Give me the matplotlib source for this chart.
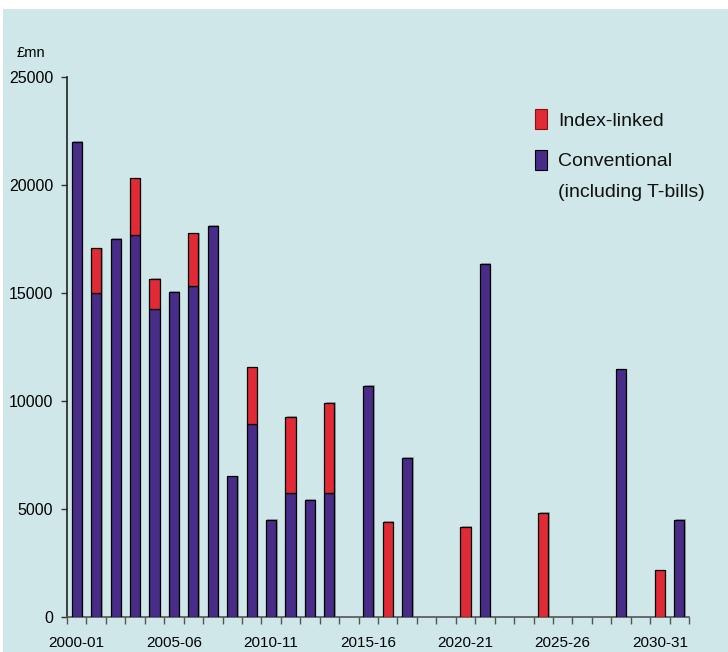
import numpy as np
import matplotlib
matplotlib.use("Agg")
import matplotlib.pyplot as plt
from matplotlib.patches import Patch, Rectangle
import matplotlib.patheffects as pe

# Redemption profile of gilts, fiscal years 2000-01 to 2031-32 (£mn)
years = ["%d-%02d" % (y, (y + 1) % 100) for y in range(2000, 2032)]
conventional = [22000, 15000, 17500, 17650, 14250, 15050, 15300, 18100,
                6500, 8900, 4500, 5750, 5400, 5750, 0, 10700,
                0, 7350, 0, 0, 0, 16350, 0, 0,
                0, 0, 0, 0, 11450, 0, 0, 4500]
index_linked = [0, 2050, 0, 2650, 1400, 0, 2450, 0,
                0, 2650, 0, 3500, 0, 4150, 0, 0,
                4400, 0, 0, 0, 4150, 0, 0, 0,
                4800, 0, 0, 0, 0, 0, 2150, 0]
yticks = [0, 5000, 10000, 15000, 20000, 25000]

BG = "#cfe7e8"
BLUE = "#482c88"
RED = "#e02a35"

plt.rcParams["font.family"] = ["Liberation Sans", "DejaVu Sans"]

fig = plt.figure(figsize=(7.28, 6.52), dpi=100)
fig.patch.set_facecolor("white")
# light panel behind the chart, leaving a thin white margin top and left
fig.add_artist(Rectangle((3 / 728, 0), 1, 1 - 9 / 652, transform=fig.transFigure,
                         facecolor=BG, edgecolor="none", zorder=0))

ax = fig.add_axes([67 / 728, 1 - 616.7 / 652, (689 - 67) / 728, (616.7 - 76.7) / 652])
ax.set_facecolor("none")

x = np.arange(len(years))
conv = np.array(conventional, dtype=float)
il = np.array(index_linked, dtype=float)
shadow = [pe.SimplePatchShadow(offset=(1.0, 0.5), shadow_rgbFace="#555555", alpha=0.45), pe.Normal()]

b1 = ax.bar(x, np.where(conv > 0, conv, np.nan), width=0.52, color=BLUE,
            edgecolor="black", linewidth=0.9, zorder=3)
b2 = ax.bar(x, np.where(il > 0, il, np.nan), bottom=conv, width=0.52, color=RED,
            edgecolor="black", linewidth=0.9, zorder=3)
for bar in list(b1) + list(b2):
    bar.set_path_effects(shadow)

ax.set_xlim(-0.5, len(years) - 0.5)
ax.set_ylim(0, 25000)

ax.set_yticks(yticks)
ax.set_yticklabels([str(v) for v in yticks], fontsize=11.5)
ax.tick_params(axis="y", length=4, width=1, pad=6, color="#333333")

# ticks sit between fiscal years; labels every fifth year
ax.set_xticks(np.arange(len(years) + 1) - 0.5)
ax.set_xticklabels([])
ax.tick_params(axis="x", length=5, width=1, color="#555555")
for i in range(0, len(years), 5):
    ax.annotate(years[i], (x[i], 0), xycoords=("data", "axes fraction"),
                xytext=(0, -14), textcoords="offset points",
                ha="center", va="top", fontsize=11)

for side in ["top", "right"]:
    ax.spines[side].set_visible(False)
ax.spines["left"].set_color("#222222")
ax.spines["left"].set_linewidth(1.2)
ax.spines["bottom"].set_color("#555555")
ax.spines["bottom"].set_linewidth(1.2)

fig.text(17 / 728, 1 - 57 / 652, "£mn", fontsize=10.5, ha="left", va="baseline")

handles = [Patch(facecolor=RED, edgecolor="#8a1010", linewidth=0.8),
           Patch(facecolor=BLUE, edgecolor="black", linewidth=0.8)]
leg = ax.legend(handles, ["Index-linked", "Conventional"],
                loc="upper left", bbox_to_anchor=(535 / 728, 1 - 109 / 652),
                bbox_transform=fig.transFigure, frameon=False, fontsize=14,
                handlelength=0.62, handleheight=1.2, handletextpad=0.55,
                labelspacing=1.05, borderpad=0, borderaxespad=0)
for t in leg.get_texts():
    t.set_color("#111111")
# second line of the conventional label
fig.text(558 / 728, 1 - 192 / 652, "(including T-bills)", fontsize=14,
         color="#111111", ha="left", va="center")

fig.savefig("out.png", dpi=100, facecolor=fig.get_facecolor())
